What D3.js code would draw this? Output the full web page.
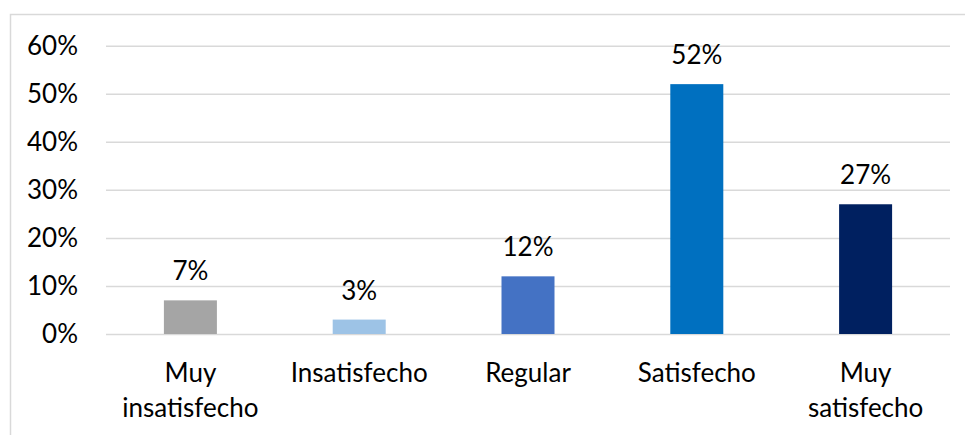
<!DOCTYPE html>
<html><head><meta charset="utf-8">
<script src="https://cdn.jsdelivr.net/npm/d3@7"></script>
<style>html,body{margin:0;padding:0;background:#fff;}svg{display:block;}</style>
</head><body>
<svg id="chart" width="965" height="435"></svg>
<script>
const categories = [["Muy","insatisfecho"],["Insatisfecho"],["Regular"],["Satisfecho"],["Muy","satisfecho"]];
const values = [0.07, 0.03, 0.12, 0.52, 0.27];
const colors = ["#a5a5a5","#9dc3e6","#4472c4","#0070c0","#002060"];
const yTicks = [0, 0.1, 0.2, 0.3, 0.4, 0.5, 0.6];

const W = 965, H = 435;
const m = {left:106, right:15, top:45.7, bottom:101};
const font = "Lato, 'Open Sans', sans-serif";
const fs = 26;
const svg = d3.select("#chart");

svg.append("rect").attr("x",10.5).attr("y",14.5).attr("width",W).attr("height",H)
  .attr("fill","#fff").attr("stroke","#d9d9d9").attr("stroke-width",1.5);

const x = d3.scaleBand().domain(categories.map((d,i)=>i)).range([m.left, W-m.right]).paddingInner(0.686).paddingOuter(0.343);
const y = d3.scaleLinear().domain([0,0.6]).range([334, m.top]);

const yAxis = svg.append("g").attr("transform",`translate(${m.left},0)`)
  .call(d3.axisLeft(y).tickValues(yTicks).tickFormat(d3.format(".0%")).tickSize(-(W-m.right-m.left)).tickPadding(28));
yAxis.select(".domain").remove();
yAxis.selectAll(".tick line").attr("stroke","#d9d9d9").attr("stroke-width",1.5);
yAxis.selectAll(".tick text").attr("font-family",font).attr("font-size",fs).attr("fill","#000");

svg.append("g").selectAll("rect").data(values).join("rect")
  .attr("x",(d,i)=>x(i)).attr("width",x.bandwidth())
  .attr("y",d=>y(d)).attr("height",d=>y(0)-y(d))
  .attr("fill",(d,i)=>colors[i]);

svg.append("g").selectAll("text").data(values).join("text")
  .attr("x",(d,i)=>x(i)+x.bandwidth()/2).attr("y",d=>y(d)-20)
  .attr("text-anchor","middle").attr("font-family",font).attr("font-size",fs).attr("fill","#000")
  .text(d=>d3.format(".0%")(d));

const cl = svg.append("g").selectAll("text").data(categories).join("text")
  .attr("x",(d,i)=>x(i)+x.bandwidth()/2).attr("y",382)
  .attr("text-anchor","middle").attr("font-family",font).attr("font-size",fs).attr("fill","#000");
cl.selectAll("tspan").data(d=>d).join("tspan")
  .attr("x",function(){return d3.select(this.parentNode).attr("x");})
  .attr("dy",(d,i)=>i===0?0:35).text(d=>d);
</script>
</body></html>
